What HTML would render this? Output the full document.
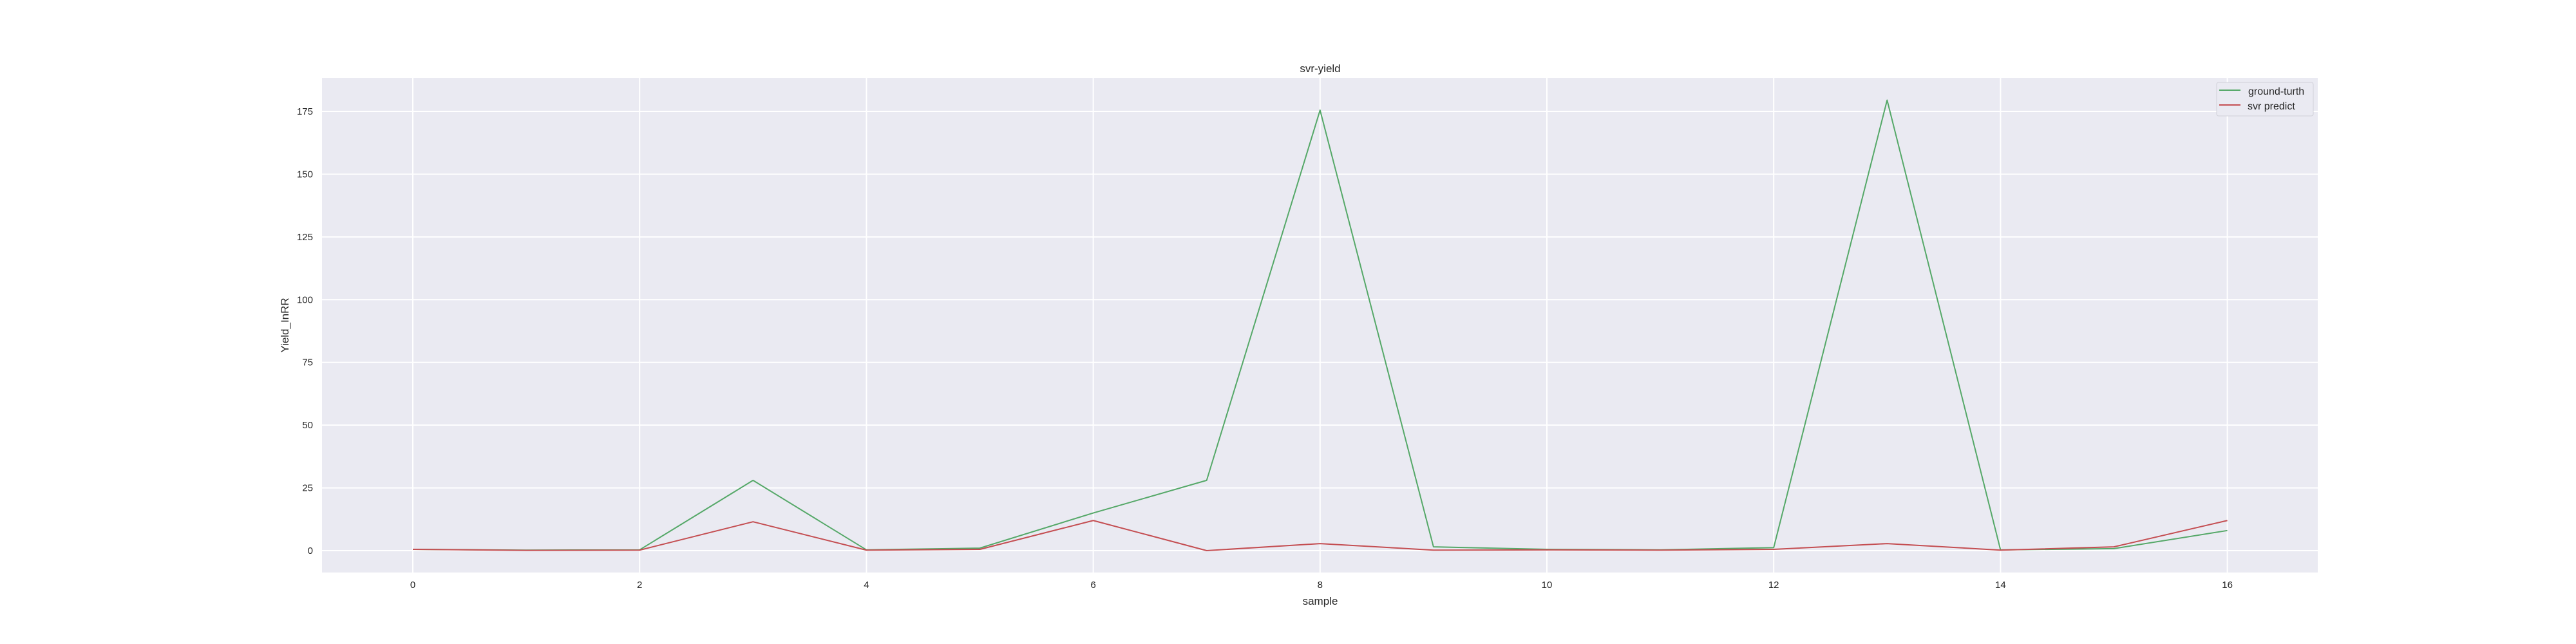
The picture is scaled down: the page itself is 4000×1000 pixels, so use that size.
<!DOCTYPE html>
<html><head><meta charset="utf-8"><style>
html,body{margin:0;padding:0;background:#fff;}
svg{display:block;font-family:"Liberation Sans","DejaVu Sans",sans-serif;}
</style></head><body>
<svg id="chart" width="4000" height="1000" xmlns="http://www.w3.org/2000/svg">
<rect x="500" y="121" width="3099" height="768" fill="#eaeaf2"/>
<g id="grid"></g><g id="ticks"></g><g id="series"></g>
<text x="2050" y="112" font-size="17" text-anchor="middle" fill="#262626">svr-yield</text>
<text x="2050" y="939" font-size="17" text-anchor="middle" fill="#262626">sample</text>
<text transform="translate(448,505) rotate(-90)" font-size="17" text-anchor="middle" fill="#262626">Yield_InRR</text>
<g>
<rect x="3442" y="128" width="150" height="52" rx="3" fill="#eaeaf2" stroke="#d0d0d8" stroke-width="1"/>
<line x1="3446" y1="140" x2="3479" y2="140" stroke="#55a868" stroke-width="2"/>
<text x="3491" y="147" font-size="16" fill="#262626">ground-turth</text>
<line x1="3446" y1="163" x2="3479" y2="163" stroke="#c44e52" stroke-width="2"/>
<text x="3490" y="170" font-size="16" fill="#262626">svr predict</text>
</g>
</svg>
<script>
const samples=[0,1,2,3,4,5,6,7,8,9,10,11,12,13,14,15,16];
const groundTruth=[0.5,0.2,0.3,28,0.3,1,15,28,175.5,1.5,0.5,0.3,1.2,179.5,0.3,0.8,8];
const svrPredict=[0.5,0.1,0.2,11.5,0.2,0.5,12,0,2.8,0.2,0.3,0.2,0.5,2.8,0.2,1.5,12];
const xTicks=[0,2,4,6,8,10,12,14,16];
const yTicks=[0,25,50,75,100,125,150,175];
const NS="http://www.w3.org/2000/svg";
function sx(v){return 641+(v-0)*176.1;}
function sy(v){return 855-v*3.897;}
function mk(t,a,p){const e=document.createElementNS(NS,t);for(const k in a)e.setAttribute(k,a[k]);p.appendChild(e);return e;}
const grid=document.getElementById('grid'),ticks=document.getElementById('ticks'),series=document.getElementById('series');
xTicks.forEach(v=>{
 const l=mk('line',{x1:sx(v),x2:sx(v),y1:121,y2:889,stroke:'#fff','stroke-width':2},grid);
 
 
 const t=mk('text',{x:sx(v),y:913,'font-size':15,'text-anchor':'middle',fill:'#262626'},ticks);
 t.textContent=v;
 
 
});
yTicks.forEach(v=>{
 const l=mk('line',{x1:500,x2:3599,y1:sy(v),y2:sy(v),stroke:'#fff','stroke-width':2},grid);
 
 
 const t=mk('text',{x:486,y:sy(v)+5,'font-size':15,'text-anchor':'end',fill:'#262626'},ticks);
 t.textContent=v;
 
 
});
function line(vals,color,name){
 const pts=samples.map((s,i)=>sx(s)+','+sy(vals[i])).join(' ');
 const p=mk('polyline',{points:pts,fill:'none',stroke:color,'stroke-width':2,'stroke-linejoin':'round'},series);
 
 
}
line(groundTruth,'#55a868','ground-truth-line');
line(svrPredict,'#c44e52','svr-predict-line');
</script>
</body></html>
